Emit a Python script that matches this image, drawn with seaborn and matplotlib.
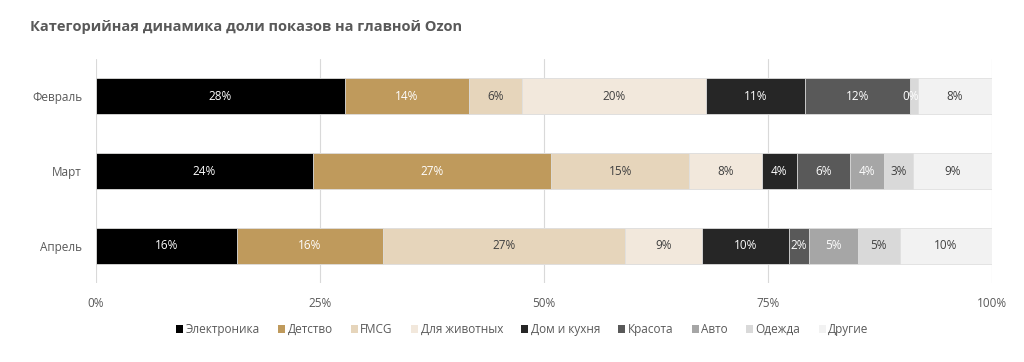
import numpy as np
import pandas as pd
import matplotlib.pyplot as plt
from matplotlib.patches import Patch
import seaborn as sns

months = ["Февраль", "Март", "Апрель"]
categories = ["Электроника", "Детство", "FMCG", "Для животных", "Дом и кухня",
              "Красота", "Авто", "Одежда", "Другие"]
# shares, % (rows follow months)
electronics = [27.8, 24.2, 15.7]
kids = [13.8, 26.6, 16.3]
fmcg = [6.0, 15.4, 27.0]
pets = [20.5, 8.1, 8.6]
home = [11.0, 3.9, 9.7]
beauty = [11.8, 6.0, 2.3]
auto = [0.0, 3.7, 5.4]
clothes = [0.8, 3.3, 4.7]
other = [8.3, 8.8, 10.3]

series = [electronics, kids, fmcg, pets, home, beauty, auto, clothes, other]
colors = ["#000000", "#bf9a5c", "#e6d5bb", "#f2e8dc", "#262626",
          "#595959", "#a6a6a6", "#d9d9d9", "#f2f2f2"]
text_colors = ["white", "white", "#404040", "#404040", "white",
               "white", "white", "#404040", "#404040"]

sns.set_theme(style="white")
plt.rcParams["font.family"] = ["Open Sans", "DejaVu Sans"]

vals = np.array(series)            # (categories, months)
cum = np.cumsum(vals, axis=0)

fig = plt.figure(figsize=(10.24, 3.62), dpi=100)
ax = fig.add_axes([0.09375, 0.217, 0.875, 0.621])

# draw cumulative totals from the last category back, so each bar covers the next
for i in reversed(range(len(categories))):
    df = pd.DataFrame({"month": months, "cum": cum[i]})
    sns.barplot(data=df, x="cum", y="month", orient="h", color=colors[i],
                width=0.49, saturation=1, ax=ax, zorder=3,
                edgecolor="#e0e0e0", linewidth=0.6)

for i in range(len(categories)):
    for j in range(len(months)):
        v = vals[i, j]
        if 0 < v < 1:
            continue
        ax.text(cum[i, j] - v / 2, j, f"{v:.0f}%", ha="center", va="center",
                fontsize=8.5, color=text_colors[i], zorder=5)

ax.set_xlim(0, 100)
ax.set_ylim(2.5, -0.5)
ax.set_xticks([0, 25, 50, 75, 100])
ax.set_xticklabels(["0%", "25%", "50%", "75%", "100%"])
ax.xaxis.grid(True, color="#d9d9d9", linewidth=0.8, zorder=0)
ax.set_axisbelow(True)
for s in ax.spines.values():
    s.set_visible(False)
ax.set_xlabel("")
ax.set_ylabel("")
ax.tick_params(axis="both", length=0, labelsize=8.5, colors="#595959")
ax.tick_params(axis="x", pad=10)
ax.tick_params(axis="y", pad=10)

fig.text(0.029, 0.915, "Категорийная динамика доли показов на главной Ozon",
         fontsize=10.5, fontweight="bold", color="#595959")

handles = [Patch(facecolor=c, edgecolor="none") for c in colors]
fig.legend(handles, categories, loc="center", bbox_to_anchor=(0.51, 0.09),
           ncol=9, frameon=False, fontsize=8.5, handlelength=0.6,
           handleheight=0.6, handletextpad=0.2, columnspacing=1.55,
           labelcolor="#595959")

fig.savefig("out.png", dpi=100)
